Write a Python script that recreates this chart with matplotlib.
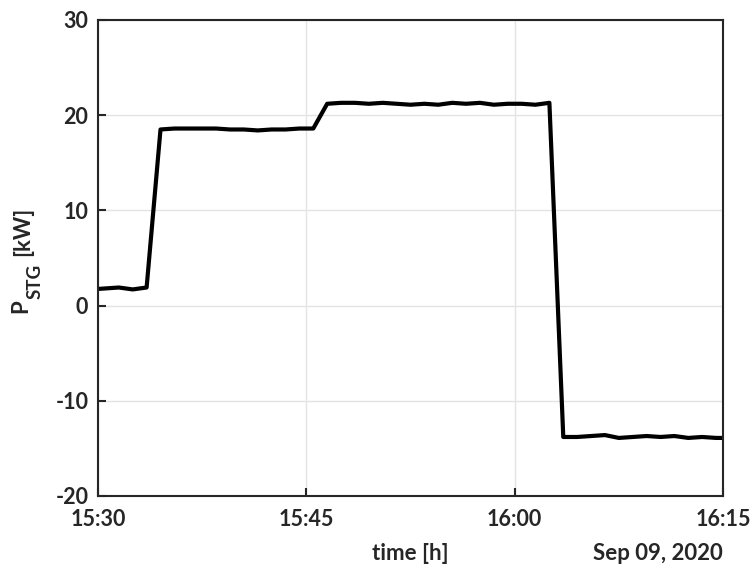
import numpy as np
import matplotlib
matplotlib.use('Agg')
import matplotlib.pyplot as plt
import matplotlib.dates as mdates

plt.rcParams['font.family'] = ['Lato', 'DejaVu Sans']
plt.rcParams['font.weight'] = 'bold'
plt.rcParams['axes.unicode_minus'] = False

# minutes after 15:30, samples every minute (offset half a minute)
minutes = np.arange(-0.5, 46.0, 1.0)
p_stg = [1.7, 1.8, 1.9, 1.7, 1.9,
         18.5, 18.6, 18.6, 18.6, 18.6, 18.5, 18.5, 18.4, 18.5, 18.5, 18.6, 18.6,
         21.2, 21.3, 21.3, 21.2, 21.3, 21.2, 21.1, 21.2, 21.1, 21.3, 21.2, 21.3,
         21.1, 21.2, 21.2, 21.1, 21.3,
         -13.8, -13.8, -13.7, -13.6, -13.9, -13.8, -13.7, -13.8, -13.7, -13.9,
         -13.8, -13.9, -13.9]

start = np.datetime64('2020-09-09T15:30:00')
times = start + (np.array(minutes) * 60).astype('timedelta64[s]')

W, H = 752, 572
fig = plt.figure(figsize=(W / 100, H / 100), dpi=100)
ax = fig.add_axes([98 / W, 1 - 496 / H, 625 / W, 476 / H])

ax.plot(times, p_stg, color='black', linewidth=3)

ax.set_xlim(start, start + np.timedelta64(45, 'm'))
ax.set_ylim(-20, 30)
ax.set_yticks([-20, -10, 0, 10, 20, 30])
ax.xaxis.set_major_locator(mdates.MinuteLocator(byminute=[0, 15, 30, 45]))
ax.xaxis.set_major_formatter(mdates.DateFormatter('%H:%M'))

ax.grid(True, color='#e3e3e3', linewidth=1)
ax.tick_params(direction='in', length=6, width=1.5, labelsize=15.5, color='#262626',
               labelcolor='#262626')
ax.tick_params(axis='x', pad=9)
ax.tick_params(axis='y', pad=7)
for s in ax.spines.values():
    s.set_linewidth(1.5)
    s.set_color('#262626')

# y label built from pieces so the subscript stays large
lab = dict(rotation=90, ha='center', va='bottom', color='#262626', fontweight='bold')
fig.text(21 / W, 1 - 313 / H, 'P', fontsize=16, **lab)
fig.text(35 / W, 1 - 299 / H, 'STG', fontsize=13.5, **lab)
fig.text(23 / W, 1 - 256 / H, '[kW]', fontsize=16, **lab)

fig.text(410 / W, 1 - 553 / H, 'time [h]', fontsize=16, ha='center', va='center',
         color='#262626')
fig.text(723 / W, 1 - 553 / H, 'Sep 09, 2020', fontsize=16, ha='right', va='center',
         color='#262626')

plt.savefig('out.png', dpi=100)
